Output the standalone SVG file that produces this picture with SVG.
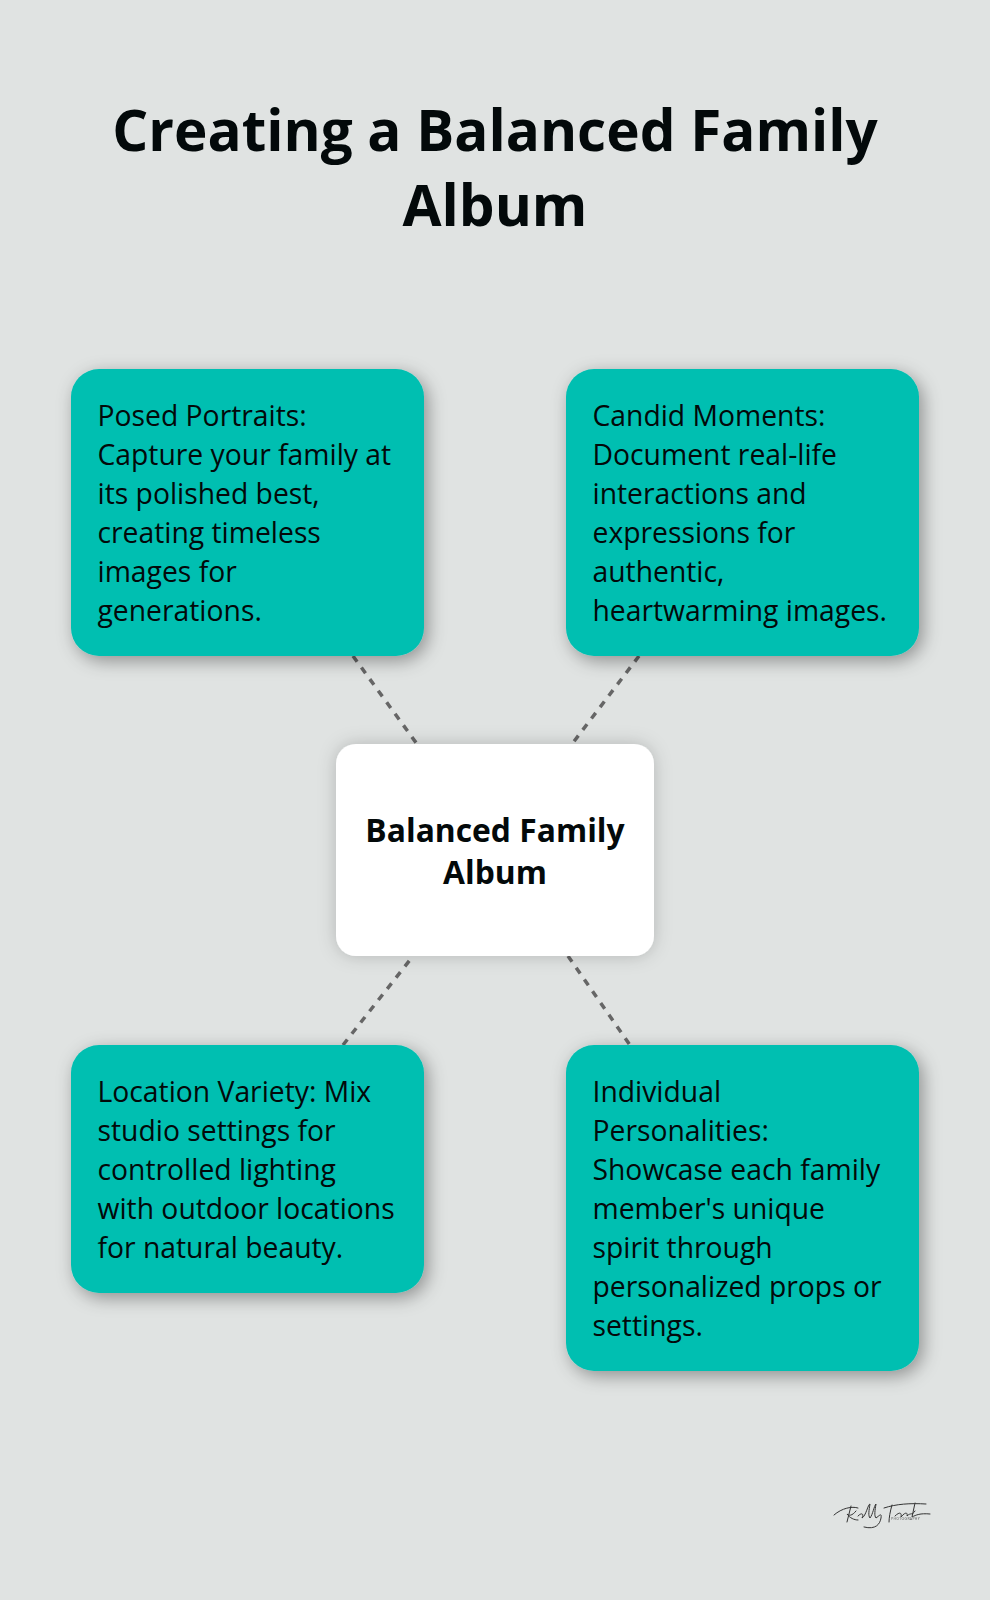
<svg xmlns="http://www.w3.org/2000/svg" width="990" height="1600" viewBox="0 0 990 1600">
<style>
text{font-family:"Open Sans","Noto Sans","Liberation Sans",sans-serif;fill:#03090a}
.title{font-size:56.600px;font-weight:700;text-anchor:middle}
.body{font-size:28.300px}
.center{font-size:31.800px;font-weight:700;text-anchor:middle}
.card{fill:#00bfb1;filter:url(#sh)}
.conn{stroke:#666;stroke-width:3.500;stroke-dasharray:7 7.300;fill:none}
.sig{fill:none;stroke:#333;stroke-linecap:round}
</style>
<defs>
<filter id="sh" x="-20%" y="-20%" width="140%" height="140%"><feDropShadow dx="4" dy="5" stdDeviation="9" flood-color="#000" flood-opacity="0.36"/></filter>
<filter id="shw" x="-20%" y="-20%" width="140%" height="140%"><feDropShadow dx="0" dy="0" stdDeviation="9" flood-color="#000" flood-opacity="0.2"/></filter>
<filter id="soft"><feGaussianBlur stdDeviation="0.5"/></filter>
</defs>
<rect width="990" height="1600" fill="#e0e3e2"/>
<g id="title"><text class="title" x="495" y="151">Creating a Balanced Family</text><text class="title" x="495" y="226">Album</text></g>
<g id="connectors">
<line class="conn" x1="353" y1="656" x2="417" y2="744"/>
<line class="conn" x1="639" y1="656" x2="572" y2="744"/>
<line class="conn" x1="343" y1="1045" x2="413" y2="956"/>
<line class="conn" x1="568" y1="956" x2="630" y2="1045"/>
</g>
<g id="node-posed"><rect class="card" x="71" y="369" width="353" height="287" rx="28"/>
<text class="body" x="97.500" y="426">Posed Portraits:</text><text class="body" x="97.500" y="465">Capture your family at</text><text class="body" x="97.500" y="504">its polished best,</text><text class="body" x="97.500" y="543">creating timeless</text><text class="body" x="97.500" y="582">images for</text><text class="body" x="97.500" y="621">generations.</text></g>
<g id="node-candid"><rect class="card" x="566" y="369" width="353" height="287" rx="28"/>
<text class="body" x="592.500" y="426">Candid Moments:</text><text class="body" x="592.500" y="465">Document real-life</text><text class="body" x="592.500" y="504">interactions and</text><text class="body" x="592.500" y="543">expressions for</text><text class="body" x="592.500" y="582">authentic,</text><text class="body" x="592.500" y="621">heartwarming images.</text></g>
<g id="node-center"><rect x="336" y="744" width="318" height="212" rx="20" fill="#fff" filter="url(#shw)"/>
<text class="center" x="495" y="842">Balanced Family</text><text class="center" x="495" y="884">Album</text></g>
<g id="node-location"><rect class="card" x="71" y="1045" width="353" height="248" rx="28"/>
<text class="body" x="97.500" y="1102">Location Variety: Mix</text><text class="body" x="97.500" y="1141">studio settings for</text><text class="body" x="97.500" y="1180">controlled lighting</text><text class="body" x="97.500" y="1219">with outdoor locations</text><text class="body" x="97.500" y="1258">for natural beauty.</text></g>
<g id="node-individual"><rect class="card" x="566" y="1045" width="353" height="326" rx="28"/>
<text class="body" x="592.500" y="1102">Individual</text><text class="body" x="592.500" y="1141">Personalities:</text><text class="body" x="592.500" y="1180">Showcase each family</text><text class="body" x="592.500" y="1219">member's unique</text><text class="body" x="592.500" y="1258">spirit through</text><text class="body" x="592.500" y="1297">personalized props or</text><text class="body" x="592.500" y="1336">settings.</text></g>
<g id="signature" filter="url(#soft)">
<path class="sig" d="M834 1515C842 1508 852 1506 858 1508M851 1506L847 1522M856 1511C852 1516 849 1516 847 1514C850 1518 854 1520 858 1520"/>
<path class="sig" d="M858 1516C862 1512 864 1514 862 1518C866 1516 868 1504 870 1504C869 1510 868 1516 870 1518C873 1514 874 1506 876 1504C875 1510 874 1516 876 1518C879 1516 882 1512 881 1518C880 1524 876 1530 864 1527"/>
<path class="sig" d="M884 1508C896 1504 910 1503 926 1504M892 1505C890 1512 889 1518 889 1522M895 1516C899 1512 902 1512 901 1517C905 1512 908 1512 907 1516C911 1512 912 1516 915 1511M915 1503L912 1517C916 1515 920 1513 930 1514"/>
<text x="891" y="1520" font-size="3.500" style="fill:#555;letter-spacing:.3px">PHOTOGRAPHY</text>
</g>
</svg>
